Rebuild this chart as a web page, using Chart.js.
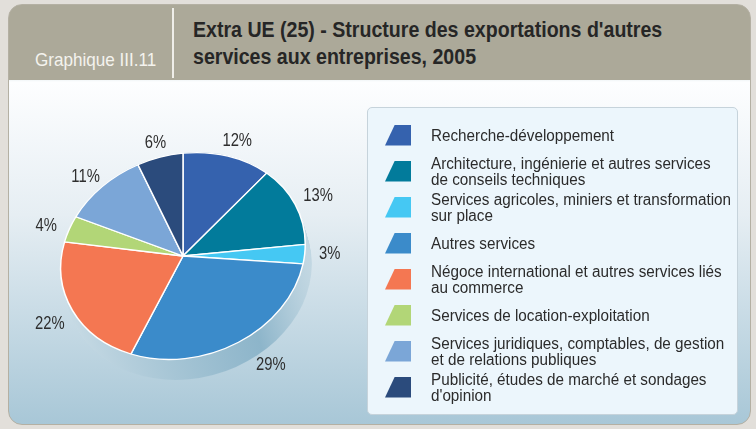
<!DOCTYPE html>
<html lang="fr">
<head>
<meta charset="utf-8">
<script src="https://cdn.jsdelivr.net/npm/chart.js@4.4.1/dist/chart.umd.min.js"></script>
<style>
html,body{margin:0;padding:0;width:756px;height:429px;overflow:hidden;background:#e2dfda;font-family:"Liberation Sans",Arial,sans-serif;}
#card{position:absolute;left:8px;top:4px;width:741px;height:419px;border:1.5px solid #b4b0a3;border-radius:14px;
  background:linear-gradient(180deg,#aca999 0px,#aca999 75px,#f2f6f8 75px,#fdfeff 77px,#e6eef3 50%,#a8c7d7 100%);}
#divider{position:absolute;left:172px;top:8px;width:1.5px;height:70px;background:#efeee9;}
#gtag{position:absolute;left:35px;top:50px;font-size:19px;line-height:19px;color:#f4f3ee;white-space:nowrap;transform:scaleX(0.9);transform-origin:0 0;}
#title{position:absolute;left:193px;top:16px;font-size:22px;line-height:27px;font-weight:bold;color:#262626;white-space:nowrap;transform:scaleX(0.89);transform-origin:0 0;}
#legbox{position:absolute;left:367px;top:107px;width:369px;height:306px;background:#ecf6fc;border:1px solid #c6d3db;border-radius:5px;}
#chart{position:absolute;left:0;top:0;}
.row{position:absolute;left:385px;height:36px;display:flex;align-items:center;}
.ico{width:26px;height:21px;clip-path:polygon(38% 0,100% 0,100% 100%,0 100%);flex:none;}
.txt{margin-left:20px;font-size:16px;line-height:16px;color:#2b2b2b;white-space:nowrap;transform:scaleX(0.953);transform-origin:0 50%;padding-top:2px;}
</style>
</head>
<body>
<div id="card"></div>
<div id="divider"></div>
<div id="gtag">Graphique III.11</div>
<div id="title">Extra UE (25) - Structure des exportations d'autres<br>services aux entreprises, 2005</div>
<div id="legbox"></div>
<canvas id="chart" width="756" height="429"></canvas>
<div id="legend"></div>
<script>
// ---- data ----
const categories = [
  ["Recherche-développement"],
  ["Architecture, ingénierie et autres services", "de conseils techniques"],
  ["Services agricoles, miniers et transformation", "sur place"],
  ["Autres services"],
  ["Négoce international et autres services liés", "au commerce"],
  ["Services de location-exploitation"],
  ["Services juridiques, comptables, de gestion", "et de relations publiques"],
  ["Publicité, études de marché et sondages", "d'opinion"]
];
const shares = [12, 13, 3, 29, 22, 4, 11, 6];
const colors = ["#3562ae", "#027b9b", "#45c8f3", "#3b8bca", "#f47752", "#b2d677", "#7ba6d7", "#2b4b7c"];

// ---- tilt (3D look) plugin: affine projection of the pie disc ----
const K = 0.841;      // vertical squash
const SH = -0.0957;   // shear (right side raised)
const DEPTH = 20, SHIFT = 6;
function project(ctx, cx, cy) {
  ctx.translate(cx, cy);
  ctx.transform(1, SH, 0, K, 0, 0);
  ctx.translate(-cx, -cy);
}
function insideSolid(px, py, cx, cy, r) {
  for (let d = 0; d <= DEPTH; d += 2) {
    const ex = cx + SHIFT * d / DEPTH, ey = cy + d;
    const lx = px - ex;
    const ly = (py - ey - SH * lx) / K;
    if (lx * lx + ly * ly < r * r) return true;
  }
  return false;
}
const tilt = {
  id: 'tilt',
  beforeDatasetsDraw(chart) {
    const arc = chart.getDatasetMeta(0).data[0];
    const cx = arc.x, cy = arc.y, r = arc.outerRadius;
    const ctx = chart.ctx;
    for (let d = DEPTH; d >= 0; d--) {
      ctx.save();
      ctx.translate(SHIFT * d / DEPTH, d);
      project(ctx, cx, cy);
      const g = ctx.createLinearGradient(cx - r, 0, cx + r, 0);
      g.addColorStop(0, '#c8dbe5');
      g.addColorStop(0.45, '#a6c5d5');
      g.addColorStop(0.8, '#8db5ca');
      g.addColorStop(1, '#c2d7e2');
      ctx.fillStyle = g;
      ctx.beginPath();
      ctx.arc(cx, cy, r + 0.5, 0, Math.PI * 2);
      ctx.fill();
      ctx.restore();
    }
    ctx.save();
    project(ctx, cx, cy);
  },
  afterDatasetsDraw(chart) {
    const ctx = chart.ctx;
    ctx.restore();
    const meta = chart.getDatasetMeta(0);
    const vals = chart.data.datasets[0].data;
    ctx.save();
    ctx.fillStyle = '#2e2e2e';
    ctx.font = '18.5px "Liberation Sans", Arial, sans-serif';
    ctx.textAlign = 'center';
    ctx.textBaseline = 'middle';
    meta.data.forEach((a, i) => {
      const mid = (a.startAngle + a.endAngle) / 2;
      const r = a.outerRadius;
      const c = Math.cos(mid), s = Math.sin(mid);
      const lx = c * (r + 25), ly = s * (r + 18);
      let x = a.x + lx;
      const y = a.y + SH * lx + K * ly + (s > 0 ? s * 12 : 0);
      const txt = vals[i] + '%';
      const hw = ctx.measureText(txt).width * 0.8 / 2 + 2, hh = 8;
      const dir = c >= 0 ? 1 : -1;
      for (let k = 0; k < 60; k++) {
        const hit = [[-hw, -hh], [hw, -hh], [-hw, hh], [hw, hh], [0, -hh]]
          .some(p => insideSolid(x + p[0], y + p[1], a.x, a.y, r));
        if (!hit) break;
        x += dir;
      }
      ctx.save();
      ctx.translate(x, y);
      ctx.scale(0.8, 1);
      ctx.fillText(txt, 0, 0);
      ctx.restore();
    });
    ctx.restore();
  }
};

const chart = new Chart(document.getElementById('chart'), {
  type: 'pie',
  data: {
    labels: categories,
    datasets: [{
      data: shares,
      backgroundColor: colors,
      borderColor: '#ffffff',
      borderWidth: 1.5,
      hoverOffset: 0
    }]
  },
  options: {
    responsive: false,
    animation: false,
    devicePixelRatio: 1,
    events: [],
    layout: { padding: { left: 60, right: 450, top: 133, bottom: 50 } },
    plugins: { legend: { display: false }, tooltip: { enabled: false } }
  },
  plugins: [tilt]
});

// ---- HTML legend built from chart data ----
const leg = document.getElementById('legend');
chart.data.labels.forEach((lab, i) => {
  const row = document.createElement('div');
  row.className = 'row';
  row.style.top = (117 + 36 * i) + 'px';
  const ico = document.createElement('div');
  ico.className = 'ico';
  ico.style.background = chart.data.datasets[0].backgroundColor[i];
  const t = document.createElement('div');
  t.className = 'txt';
  t.innerHTML = lab.map(s => s.replace(/&/g, '&amp;').replace(/</g, '&lt;')).join('<br>');
  row.appendChild(ico);
  row.appendChild(t);
  leg.appendChild(row);
});
</script>
</body>
</html>
